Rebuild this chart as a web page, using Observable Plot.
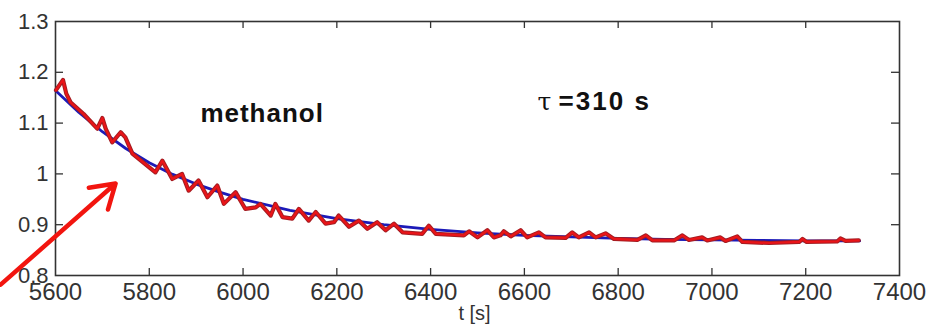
<!DOCTYPE html>
<html>
<head>
<meta charset="utf-8">
<script src="https://cdn.jsdelivr.net/npm/d3@7"></script>
<script src="https://cdn.jsdelivr.net/npm/@observablehq/plot@0.6"></script>
<style>
  html, body { margin: 0; padding: 0; background: #fff; }
  #chart svg { display: block; }
</style>
</head>
<body>
<div id="chart"></div>
<script>
// Measured signal (red)
const measT = [5601,5616,5623,5632,5660,5689,5700,5707,5721,5739,5749,5764,5813,5828,5849,5870,5884,5905,5924,5945,5959,5984,6005,6027,6037,6059,6069,6084,6105,6119,6140,6155,6176,6194,6204,6226,6247,6265,6286,6304,6322,6340,6382,6396,6411,6471,6482,6500,6521,6535,6549,6556,6571,6592,6606,6631,6645,6688,6702,6716,6738,6752,6773,6791,6841,6859,6873,6919,6937,6951,6979,6990,7018,7029,7054,7065,7122,7186,7193,7202,7267,7274,7285,7313];
const measV = [1.165,1.185,1.158,1.141,1.118,1.089,1.110,1.089,1.062,1.082,1.072,1.040,1.003,1.026,0.990,1.000,0.967,0.987,0.954,0.977,0.941,0.964,0.931,0.934,0.941,0.918,0.941,0.915,0.912,0.931,0.908,0.925,0.902,0.905,0.918,0.896,0.908,0.892,0.905,0.889,0.902,0.885,0.882,0.898,0.882,0.879,0.887,0.875,0.889,0.875,0.879,0.887,0.877,0.889,0.875,0.885,0.875,0.874,0.885,0.875,0.885,0.875,0.883,0.872,0.870,0.879,0.869,0.869,0.879,0.870,0.875,0.869,0.875,0.868,0.877,0.866,0.864,0.866,0.872,0.866,0.867,0.873,0.868,0.869];

// Exponential fit (blue), tau = 310 s
const fitT = [5600,5650,5700,5750,5800,5850,5900,5950,6000,6100,6200,6300,6400,6500,6600,6700,6800,6900,7000,7100,7200,7315];
const fitV = [1.164,1.121,1.083,1.050,1.022,0.999,0.980,0.964,0.950,0.928,0.912,0.900,0.891,0.884,0.879,0.876,0.873,0.871,0.870,0.869,0.868,0.868];

// Axis ticks
const xTicks = [5600,5800,6000,6200,6400,6600,6800,7000,7200,7400];
const yTicks = [0.8,0.9,1,1.1,1.2,1.3];
const xInnerTicks = [5800,6000,6200,6400,6600,6800,7000,7200];
const yInnerTicks = [0.9,1,1.1,1.2];

// Annotations (data coordinates)
const labelName = ["methanol"];
const labelNameT = [5909];
const labelNameV = [1.119];
const tauSym = ["τ"];
const tauSymT = [6628];
const tauText = ["=310 s"];
const tauTextT = [6673];
const tauV = [1.1425];
const arrowFrom = [5483, 0.782];
const arrowTo = [5728, 0.981];
const xLabel = "t [s]";

const meas = measT.map((t, i) => ({t, v: measV[i]}));
const fit = fitT.map((t, i) => ({t, v: fitV[i]}));

const ink = "#333";
const plot = Plot.plot({
  width: 937,
  height: 332,
  marginLeft: 55,
  marginRight: 38,
  marginTop: 21,
  marginBottom: 57,
  style: {fontFamily: "'Liberation Sans', Arial, sans-serif", background: "#fff", color: ink},
  x: {domain: [5600, 7400]},
  y: {domain: [0.8, 1.3]},
  marks: [
    Plot.axisX(xTicks, {tickSize: 0, tickPadding: 7, fontSize: 24, fill: ink, label: null, tickFormat: d => String(d)}),
    Plot.axisY(yTicks, {tickSize: 0, tickPadding: 7, fontSize: 22, fill: ink, label: null, tickFormat: d => String(d)}),
    Plot.text([xLabel], {frameAnchor: "bottom", dy: 44, dx: -3, fontSize: 20, fill: ink}),
    // inward ticks on all four sides
    Plot.tickX(xInnerTicks, {x: d => d, insetTop: 247, stroke: ink, strokeWidth: 1.3}),
    Plot.tickX(xInnerTicks, {x: d => d, insetBottom: 247, stroke: ink, strokeWidth: 1.3}),
    Plot.tickY(yInnerTicks, {y: d => d, insetRight: 836, stroke: ink, strokeWidth: 1.3}),
    Plot.tickY(yInnerTicks, {y: d => d, insetLeft: 836, stroke: ink, strokeWidth: 1.3}),
    Plot.frame({stroke: ink, strokeWidth: 1.6}),
    Plot.line(fit, {x: "t", y: "v", stroke: "#1c1ab8", strokeWidth: 2.8}),
    Plot.line(meas, {x: "t", y: "v", stroke: "#a31d22", strokeWidth: 4.2, strokeLinejoin: "round"}),
    Plot.line(meas, {x: "t", y: "v", stroke: "#ea1418", strokeWidth: 2.2, strokeLinejoin: "round"}),
    Plot.text(labelName, {x: labelNameT, y: labelNameV, textAnchor: "start", fontSize: 26, fontWeight: "bold", fill: "#111"}),
    Plot.text(tauSym, {x: tauSymT, y: tauV, textAnchor: "start", fontSize: 25, fill: "#111", fontFamily: "'DejaVu Serif', serif"}),
    Plot.text(tauText, {x: tauTextT, y: tauV, textAnchor: "start", fontSize: 26, fontWeight: "bold", fill: "#111"}),
    Plot.arrow([0], {x1: arrowFrom[0], y1: arrowFrom[1], x2: arrowTo[0], y2: arrowTo[1], stroke: "#f2150f", strokeWidth: 4.5, headLength: 9, headAngle: 65})
  ]
});
// widen the annotation lettering slightly, as in the reference
d3.select(plot).selectAll("text").each(function () {
  const t = this.textContent;
  if (t === labelName[0]) d3.select(this).style("letter-spacing", "1px");
  if (t === tauText[0]) d3.select(this).style("letter-spacing", "2px");
});
document.getElementById("chart").appendChild(plot);
</script>
</body>
</html>
